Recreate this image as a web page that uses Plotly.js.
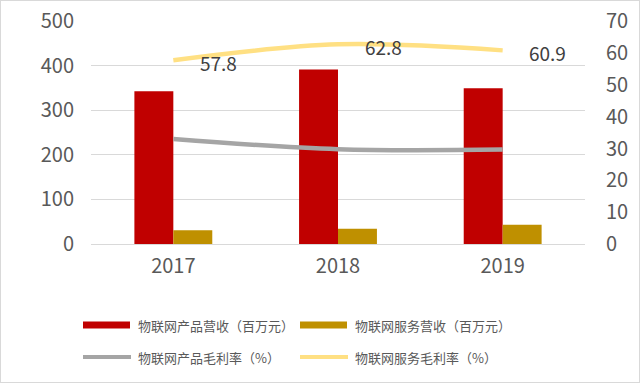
<!DOCTYPE html>
<html><head><meta charset="utf-8">
<script src="https://cdn.plot.ly/plotly-3.0.1.min.js"></script>
<style>html,body{margin:0;padding:0;background:#fff}#wrap{position:relative;width:640px;height:383px}#chart{width:640px;height:383px}#frame{position:absolute;left:0;top:0;width:638px;height:381px;border:1px solid #D9D9D9;pointer-events:none}</style>
</head><body><div id="wrap"><div id="chart"></div><div id="frame"></div></div>
<script>
const years = ['2017', '2018', '2019'];
const productRevenue = [343, 392, 350];
const serviceRevenue = [31, 34, 43];
const productMargin = [33.0, 29.8, 29.7];
const serviceMargin = [57.8, 62.8, 60.9];
const names = ['物联网产品营收（百万元）', '物联网服务营收（百万元）', '物联网产品毛利率（%）', '物联网服务毛利率（%）'];
const colors = ['#C00000', '#BF9000', '#A5A5A5', '#FFE083'];

const font = 'Noto Sans CJK SC, Noto Sans, sans-serif';
const L = 91, R = 585, T = 21, B = 244;
const px = x => (x - L) / (R - L);
const py = y => (B - y) / (B - T);

const traces = [
  {type: 'bar', x: years, y: productRevenue, name: names[0], marker: {color: colors[0]}, yaxis: 'y'},
  {type: 'bar', x: years, y: serviceRevenue, name: names[1], marker: {color: colors[1]}, yaxis: 'y'},
  {type: 'scatter', mode: 'lines', x: years, y: productMargin, name: names[2], line: {color: colors[2], width: 4.5, shape: 'spline'}, yaxis: 'y2'},
  {type: 'scatter', mode: 'lines', x: years, y: serviceMargin, name: names[3], line: {color: colors[3], width: 4.5, shape: 'spline'}, yaxis: 'y2'}
];

const annotations = years.map((yr, i) => ({
  x: i, y: serviceMargin[i], xref: 'x', yref: 'y2', text: serviceMargin[i].toFixed(1),
  showarrow: false, xshift: 45, yshift: -2, font: {family: font, size: 19, color: '#404040'}
}));

const shapes = [];
const legendPos = [[83, 325, 'rect'], [300, 325, 'rect'], [83, 357, 'line'], [300, 357, 'line']];
legendPos.forEach((p, i) => {
  const [x, y, kind] = p;
  if (kind === 'rect') {
    shapes.push({type: 'rect', xref: 'paper', yref: 'paper', x0: px(x), x1: px(x + 47), y0: py(y + 3.5), y1: py(y - 3.5), fillcolor: colors[i], line: {width: 0}});
  } else {
    shapes.push({type: 'line', xref: 'paper', yref: 'paper', x0: px(x), x1: px(x + 48), y0: py(y), y1: py(y), line: {color: colors[i], width: 4}});
  }
  annotations.push({xref: 'paper', yref: 'paper', x: px(x + 53), y: py(y), xanchor: 'left', yanchor: 'middle', text: names[i], showarrow: false, font: {family: font, size: 13, color: '#595959'}});
});

const layout = {
  width: 640, height: 383,
  margin: {l: L, r: 640 - R, t: T, b: 383 - B, pad: 0},
  paper_bgcolor: '#fff', plot_bgcolor: '#fff',
  showlegend: false,
  barmode: 'group', bargap: 0.527, bargroupgap: 0,
  font: {family: font, color: '#595959'},
  xaxis: {type: 'category', range: [-0.5, 2.5], autorange: false, showgrid: false, zeroline: false, showline: false, linecolor: 'rgba(0,0,0,0)', ticks: '', tickfont: {size: 20, color: '#595959'}, ticklabelstandoff: 8},
  yaxis: {range: [0, 501], autorange: false, tick0: 0, dtick: 100, showgrid: true, gridcolor: '#D9D9D9', gridwidth: 1, zeroline: true, zerolinecolor: '#D9D9D9', zerolinewidth: 1, showline: false, linecolor: 'rgba(0,0,0,0)', ticks: '', tickfont: {size: 20, color: '#595959'}, ticklabelstandoff: 16},
  yaxis2: {range: [0, 70.14], autorange: false, tick0: 0, dtick: 10, overlaying: 'y', side: 'right', showgrid: false, zeroline: false, showline: false, linecolor: 'rgba(0,0,0,0)', ticks: '', tickfont: {size: 20, color: '#595959'}, ticklabelstandoff: 20},
  annotations: annotations,
  shapes: shapes
};

Plotly.newPlot('chart', traces, layout, {displayModeBar: false, staticPlot: true});
</script></body></html>
